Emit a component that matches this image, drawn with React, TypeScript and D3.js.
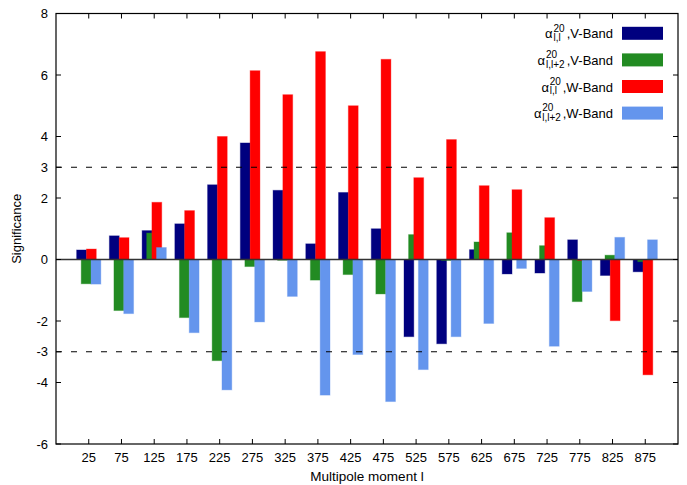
import React from "react";
import * as d3 from "d3";

const multipoles = [25, 75, 125, 175, 225, 275, 325, 375, 425, 475, 525, 575, 625, 675, 725, 775, 825, 875];
const vBandLL = [0.31, 0.77, 0.94, 1.16, 2.43, 3.79, 2.25, 0.51, 2.18, 1.0, -2.51, -2.74, 0.32, -0.47, -0.44, 0.64, -0.52, -0.4];
const vBandLL2 = [-0.79, -1.66, 0.86, -1.89, -3.29, -0.23, -0.02, -0.67, -0.49, -1.12, 0.81, -0.03, 0.57, 0.87, 0.45, -1.37, 0.14, -0.07];
const wBandLL = [0.34, 0.71, 1.86, 1.59, 4.0, 6.14, 5.36, 6.76, 5.0, 6.51, 2.66, 3.9, 2.4, 2.27, 1.36, -0.03, -1.99, -3.75];
const wBandLL2 = [-0.8, -1.76, 0.39, -2.38, -4.24, -2.03, -1.2, -4.41, -3.09, -4.62, -3.58, -2.51, -2.08, -0.29, -2.82, -1.04, 0.72, 0.64];
const yTicks = [-6, -4, -3, -2, 0, 2, 3, 4, 6, 8];
const thresholds = [3, -3];

const seriesList = [
  { values: vBandLL, color: "#00007f", sub: "l,l", band: ",V-Band", offset: -11 },
  { values: vBandLL2, color: "#228b22", sub: "l,l+2", band: ",V-Band", offset: -4 },
  { values: wBandLL, color: "#ff0000", sub: "l,l", band: ",W-Band", offset: 4 },
  { values: wBandLL2, color: "#6495ed", sub: "l,l+2", band: ",W-Band", offset: 11 },
];

const W = 687;
const H = 485;
const left = 56;
const right = 678;
const top = 13.5;
const bottom = 444;
const font = "'Liberation Sans', Arial, sans-serif";

export default function App() {
  const x = d3.scaleLinear().domain([-25, 925]).range([left, right]);
  const y = d3.scaleLinear().domain([-6, 8]).range([bottom, top]);
  const barW = x(15) - x(0);
  const tl = 5;
  const supSize = 10;
  const textEnd = 613;

  return (
    <svg width={W} height={H} style={{ position: "absolute", left: 0, top: 0 }} fontFamily={font}>
      <rect x={0} y={0} width={W} height={H} fill="#fff" />
      {seriesList.map((s, si) =>
        s.values.map((v, i) => {
          const cx = x(multipoles[i] + s.offset);
          const y0 = y(0);
          const y1 = y(v);
          return (
            <rect
              key={`${si}-${i}`}
              x={cx - barW / 2}
              y={Math.min(y0, y1)}
              width={barW}
              height={Math.max(Math.abs(y1 - y0), 0.8)}
              fill={s.color}
              stroke={s.color}
              strokeOpacity={0.35}
              strokeWidth={1}
            />
          );
        })
      )}
      {thresholds.map((t) => (
        <line key={t} x1={left} x2={right} y1={y(t)} y2={y(t)} stroke="#000" strokeWidth={1} strokeDasharray="6,9" />
      ))}
      <line x1={left} x2={right} y1={y(0)} y2={y(0)} stroke="#333" strokeWidth={1.3} />
      {yTicks.map((t) => (
        <g key={t}>
          <line x1={left} x2={left + tl} y1={y(t)} y2={y(t)} stroke="#000" />
          <line x1={right} x2={right - tl} y1={y(t)} y2={y(t)} stroke="#000" />
          <text x={left - 8} y={y(t) + 4.6} textAnchor="end" fontSize={13} fill="#000">
            {t}
          </text>
        </g>
      ))}
      {multipoles.map((m) => (
        <g key={m}>
          <line x1={x(m)} x2={x(m)} y1={bottom} y2={bottom - tl} stroke="#000" />
          <line x1={x(m)} x2={x(m)} y1={top} y2={top + tl} stroke="#000" />
          <text x={x(m)} y={462} textAnchor="middle" fontSize={13} fill="#000">
            {m}
          </text>
        </g>
      ))}
      <rect x={left} y={top} width={right - left} height={bottom - top} fill="none" stroke="#000" strokeWidth={1.2} />
      <text x={(left + right) / 2} y={481} textAnchor="middle" fontSize={13.5} fill="#000">
        Multipole moment l
      </text>
      <text transform={`translate(20.5,${(top + bottom) / 2}) rotate(-90)`} textAnchor="middle" fontSize={13} fill="#000">
        Significance
      </text>
      {seriesList.map((s, i) => {
        const base = 38.3 + i * 26.6;
        const bandW = (s.band === ",V-Band" ? 3.613 : 3.891) * 13;
        const subW = (s.sub === "l,l" ? 0.722 : 1.862) * supSize;
        const supW = 1.112 * supSize;
        const stackW = Math.max(subW, supW);
        const stackX = textEnd - bandW - 1.5 - stackW;
        const alphaX = stackX - 8.3;
        return (
          <g key={i}>
            <rect x={622} y={base - 11.5} width={41} height={13} fill={s.color} />
            <text x={alphaX} y={base} fontSize={13} fill="#000">α</text>
            <text x={stackX} y={base - 6.8} fontSize={supSize} fill="#000">20</text>
            <text x={stackX} y={base + 2.8} fontSize={supSize} fill="#000">{s.sub}</text>
            <text x={textEnd} y={base} textAnchor="end" fontSize={13} fill="#000">{s.band}</text>
          </g>
        );
      })}
    </svg>
  );
}
